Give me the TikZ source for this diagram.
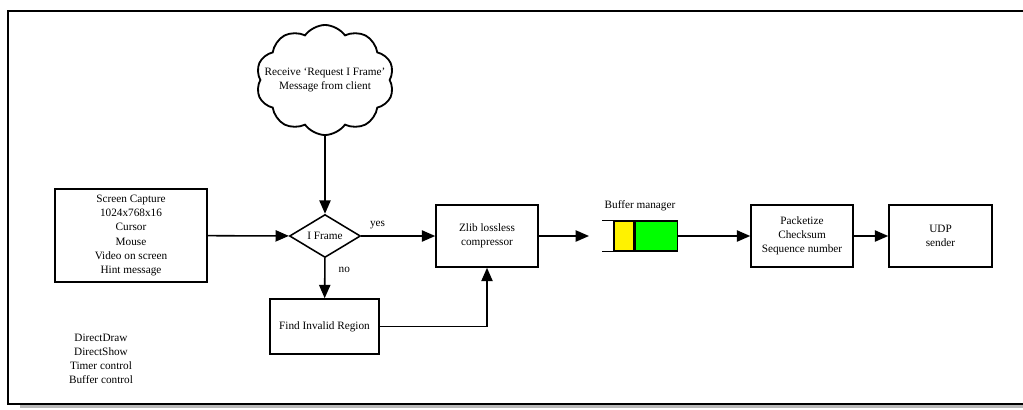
\documentclass[tikz,border=0pt]{standalone}
\usepackage{fontspec}
\setmainfont{Liberation Serif}
\usetikzlibrary{shapes.geometric,shapes.symbols,arrows.meta,positioning}
\begin{document}
\begin{tikzpicture}[x=0.025cm, y=-0.025cm,
  >={Triangle[length=9.5pt,width=8pt]},
  every node/.style={font=\fontsize{8}{10}\selectfont, align=center},
  block/.style={draw, line width=1.1pt, inner sep=1pt},
  flow/.style={draw, line width=1.1pt, ->}]
\useasboundingbox (0,0) rectangle (1023,409);
% frame and its shadow
\fill[gray!55] (20,404.5) rectangle (1040,408);
\draw[line width=1.2pt] (1040,11) -- (8,11) -- (8,404) -- (1040,404);
% nodes
\node[cloud, draw, line width=1.3pt, cloud puffs=10, cloud puff arc=110,
  cloud ignores aspect=true,
  inner sep=0pt, minimum width=3.45cm, minimum height=2.75cm] (request) at (325,80)
  {\makebox[0pt]{Receive `Request I Frame'}\\\makebox[0pt]{Message from client}};
\node[diamond, draw, line width=1.1pt, inner sep=0pt, aspect=1.65,
  minimum width=1.775cm, minimum height=1.075cm] (iframe) at (325,236) {I Frame};
\begin{scope}[every node/.append style={block}]
\node[minimum width=3.8cm, minimum height=2.325cm] (capture) at (131,235.5)
  {Screen Capture\\1024x768x16\\Cursor\\Mouse\\Video on screen\\Hint message};
\node[minimum width=2.55cm, minimum height=1.55cm] (zlib) at (487,236)
  {Zlib lossless\\compressor};
\node[minimum width=2.725cm, minimum height=1.375cm] (invalid) at (324.5,326.5)
  {Find Invalid Region};
\node[minimum width=2.55cm, minimum height=1.55cm] (packet) at (802,236)
  {Packetize\\Checksum\\Sequence number};
\node[minimum width=2.575cm, minimum height=1.55cm] (udp) at (940.5,236)
  {UDP\\sender};
\end{scope}
% buffer
\node[draw, line width=1pt, fill=yellow, inner sep=0pt,
  minimum width=0.5cm, minimum height=0.75cm] (bufyellow) at (624,236) {};
\node[draw, line width=1pt, fill=green, inner sep=0pt,
  minimum width=1.05cm, minimum height=0.75cm, right=0pt of bufyellow] (bufgreen) {};
\draw[line width=1pt] (bufyellow.north west) -- ++(-11,0);
\draw[line width=1pt] (bufyellow.south west) -- ++(-11,0);
\node (buflabel) at (640,206) {Buffer manager};
\coordinate (bufin) at (589,236);
% notes
\node (notes) at (101,359) {DirectDraw\\DirectShow\\Timer control\\Buffer control};
% connectors
\path (request) edge[flow] (iframe);
\path (capture) edge[flow] (iframe);
\path (iframe) edge[flow] node[above=1pt, pos=0.22] {yes} (zlib);
\path (iframe) edge[flow] node[right=6pt, pos=0.3] {no} (invalid);
\draw[flow] (invalid.east) -| (zlib.south);
\path (zlib) edge[flow] (bufin);
\path (bufgreen) edge[flow] (packet);
\path (packet) edge[flow] (udp);
\end{tikzpicture}
\end{document}
